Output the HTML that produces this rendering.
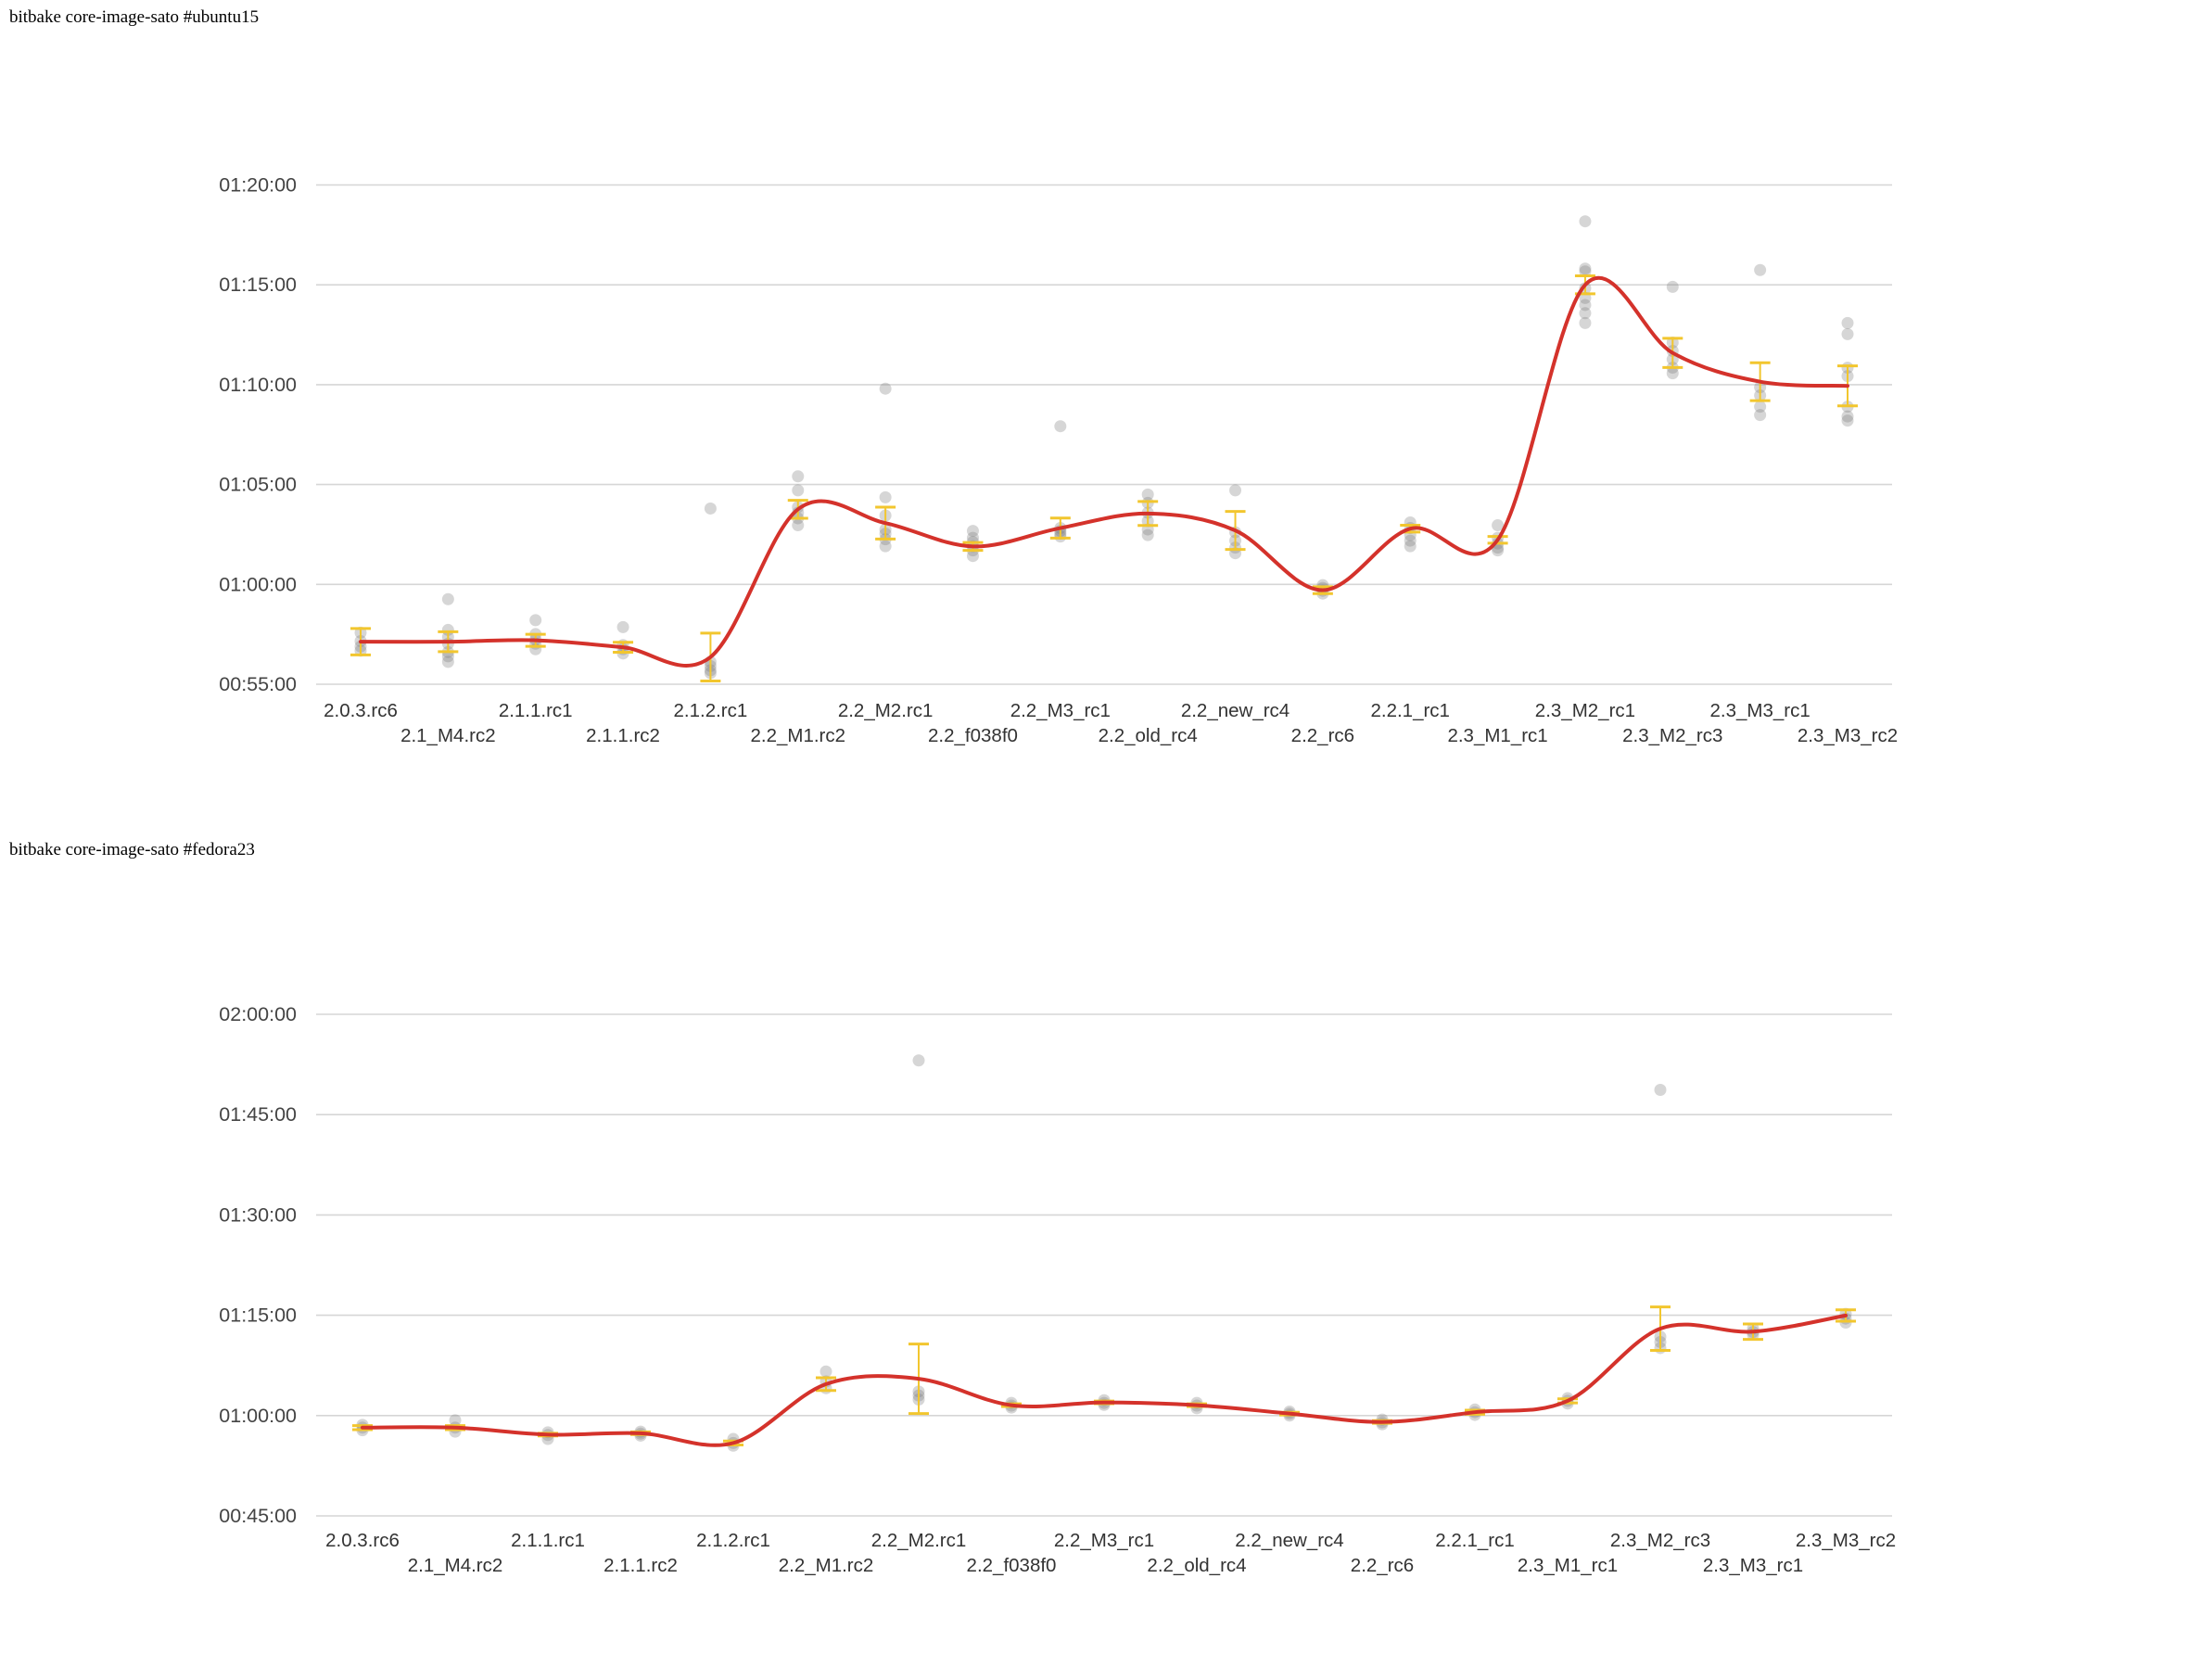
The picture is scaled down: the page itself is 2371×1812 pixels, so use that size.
<!DOCTYPE html>
<html><head><meta charset="utf-8">
<style>
html,body{margin:0;padding:0;background:#fff;}
svg{display:block;}
.t{font-family:"Liberation Serif",serif;font-size:19px;fill:#000;}
.xl{font-family:"Liberation Sans",sans-serif;font-size:20.5px;fill:#333;}
.yl{font-family:"Liberation Sans",sans-serif;font-size:21.5px;fill:#444;}
</style></head>
<body>
<svg id="chart" width="2371" height="1812" viewBox="0 0 2371 1812" xmlns="http://www.w3.org/2000/svg">
<text class="t" x="10" y="24">bitbake core-image-sato #ubuntu15</text>
<text class="t" x="10" y="922">bitbake core-image-sato #fedora23</text>
<g id="top"></g>
<g id="bot"></g>
</svg>
<script>
// ---- top chart data (minutes) ----
const topCats = ["2.0.3.rc6","2.1_M4.rc2","2.1.1.rc1","2.1.1.rc2","2.1.2.rc1","2.2_M1.rc2","2.2_M2.rc1","2.2_f038f0","2.2_M3_rc1","2.2_old_rc4","2.2_new_rc4","2.2_rc6","2.2.1_rc1","2.3_M1_rc1","2.3_M2_rc1","2.3_M2_rc3","2.3_M3_rc1","2.3_M3_rc2"];
const topMeans = [57.13,57.13,57.2,56.85,56.36,63.76,63.07,61.9,62.82,63.55,62.7,59.71,62.79,62.23,75.0,71.59,70.15,69.94];
const topErr = [0.66,0.5,0.3,0.25,1.2,0.45,0.8,0.2,0.5,0.6,0.95,0.17,0.17,0.17,0.45,0.73,0.95,1.0];
const topPoints = [
[57.58,57.16,56.89,56.68],
[59.26,57.72,57.37,57.03,56.61,56.40,56.12],
[58.21,57.51,57.23,57.03,56.75],
[57.86,56.96,56.75,56.54],
[63.80,56.12,55.91,55.70,55.56],
[65.41,64.71,63.87,63.59,63.31,62.96],
[69.80,64.36,63.45,62.75,62.54,62.26,61.91],
[62.68,62.33,62.12,61.91,61.70,61.42],
[67.92,62.82,62.68,62.54,62.40],
[64.50,64.08,63.59,63.17,62.75,62.47],
[64.71,62.61,62.19,61.84,61.56],
[59.96,59.82,59.68,59.54],
[63.10,62.82,62.47,62.19,61.91],
[62.96,62.33,62.05,61.84,61.70],
[78.18,75.81,75.67,74.83,74.34,73.99,73.58,73.09],
[74.90,72.11,71.69,71.27,70.85,70.57],
[75.74,69.87,69.46,68.90,68.48],
[73.09,72.53,70.85,70.43,68.90,68.41,68.20]];
const topTicks = ["00:55:00","01:00:00","01:05:00","01:10:00","01:15:00","01:20:00"];
const topTickVals = [55,60,65,70,75,80];

// ---- bottom chart data (minutes) ----
const botCats = ["2.0.3.rc6","2.1_M4.rc2","2.1.1.rc1","2.1.1.rc2","2.1.2.rc1","2.2_M1.rc2","2.2_M2.rc1","2.2_f038f0","2.2_M3_rc1","2.2_old_rc4","2.2_new_rc4","2.2_rc6","2.2.1_rc1","2.3_M1_rc1","2.3_M2_rc3","2.3_M3_rc1","2.3_M3_rc2"];
const botMeans = [58.2,58.2,57.15,57.36,55.9,64.7,65.5,61.55,61.97,61.55,60.3,59.04,60.5,62.2,73.0,72.55,74.96];
const botErr = [0.3,0.3,0.2,0.2,0.3,0.95,5.2,0.2,0.2,0.2,0.2,0.2,0.3,0.3,3.25,1.15,0.85];
const botPoints = [
[58.6,58.2,57.8],
[59.3,58.2,57.6],
[57.5,57.1,56.5],
[57.6,57.3,57.0],
[56.5,55.9,55.5],
[66.6,65.1,64.1],
[113.1,63.6,63.0,62.4],
[61.9,61.5,61.2],
[62.3,61.9,61.6],
[61.9,61.5,61.1],
[60.6,60.3,60.0],
[59.4,59.0,58.7],
[60.9,60.5,60.1],
[62.6,62.2,61.8],
[108.7,71.8,71.0,70.1],
[73.0,72.5,72.1],
[75.2,74.5,73.9]];
const botTicks = ["00:45:00","01:00:00","01:15:00","01:30:00","01:45:00","02:00:00"];
const botTickVals = [45,60,75,90,105,120];

const NS = "http://www.w3.org/2000/svg";
function mk(parent, tag, attrs){
  const e = document.createElementNS(NS, tag);
  for (const k in attrs) e.setAttribute(k, attrs[k]);
  parent.appendChild(e);
  return e;
}
function draw(g, cats, means, errs, pts, ticks, tickVals, cfg){
  const x = i => cfg.x0 + i*(cfg.x1-cfg.x0)/(cats.length-1);
  const y = v => cfg.yb - (v - cfg.vmin)*(cfg.yb-cfg.yt)/(cfg.vmax-cfg.vmin);
  tickVals.forEach((v,i)=>{
    const l = mk(g,"line",{x1:341,x2:2041,y1:y(v),y2:y(v),stroke:"#d6d6d6","stroke-width":1.6});
    
    
    const t = mk(g,"text",{x:320,y:y(v)+7,"text-anchor":"end",class:"yl"});
    t.textContent = ticks[i];
    
    
  });
  cats.forEach((c,i)=>{
    const t = mk(g,"text",{x:x(i),y:(i%2===0?cfg.r1:cfg.r2),"text-anchor":"middle",class:"xl"});
    t.textContent = c;
    
    
  });
  pts.forEach((arr,i)=>arr.forEach(v=>{
    const c = mk(g,"circle",{cx:x(i),cy:y(v),r:6.5,fill:"rgba(120,120,120,0.3)"});
    
    
  }));
  const P = means.map((v,i)=>[x(i),y(v)]);
  let d = "M"+P[0][0]+","+P[0][1];
  for (let i=0;i<P.length-1;i++){
    const p0=P[Math.max(0,i-1)],p1=P[i],p2=P[i+1],p3=P[Math.min(P.length-1,i+2)];
    const c1=[p1[0]+(p2[0]-p0[0])/6,p1[1]+(p2[1]-p0[1])/6];
    const c2=[p2[0]-(p3[0]-p1[0])/6,p2[1]-(p3[1]-p1[1])/6];
    d += " C"+c1[0]+","+c1[1]+" "+c2[0]+","+c2[1]+" "+p2[0]+","+p2[1];
  }
  means.forEach((v,i)=>{
    const eg = mk(g,"g",{stroke:"#f2c62e","stroke-width":3});
    
    
    const cx=x(i), a=y(v+errs[i]), b=y(v-errs[i]);
    mk(eg,"line",{x1:cx,x2:cx,y1:a,y2:b,"stroke-width":2});
    mk(eg,"line",{x1:cx-11,x2:cx+11,y1:a,y2:a});
    mk(eg,"line",{x1:cx-11,x2:cx+11,y1:b,y2:b});
  });
  const path = mk(g,"path",{d:d,fill:"none",stroke:"#d4322b","stroke-width":4,"stroke-linecap":"round"});
  
  
}
draw(document.getElementById("top"), topCats, topMeans, topErr, topPoints, topTicks, topTickVals,
  {x0:389,x1:1993,yb:738,yt:199.5,vmin:55,vmax:80,r1:773,r2:800});
draw(document.getElementById("bot"), botCats, botMeans, botErr, botPoints, botTicks, botTickVals,
  {x0:391,x1:1991,yb:1635,yt:1094,vmin:45,vmax:120,r1:1668,r2:1695});
</script>
</body></html>
